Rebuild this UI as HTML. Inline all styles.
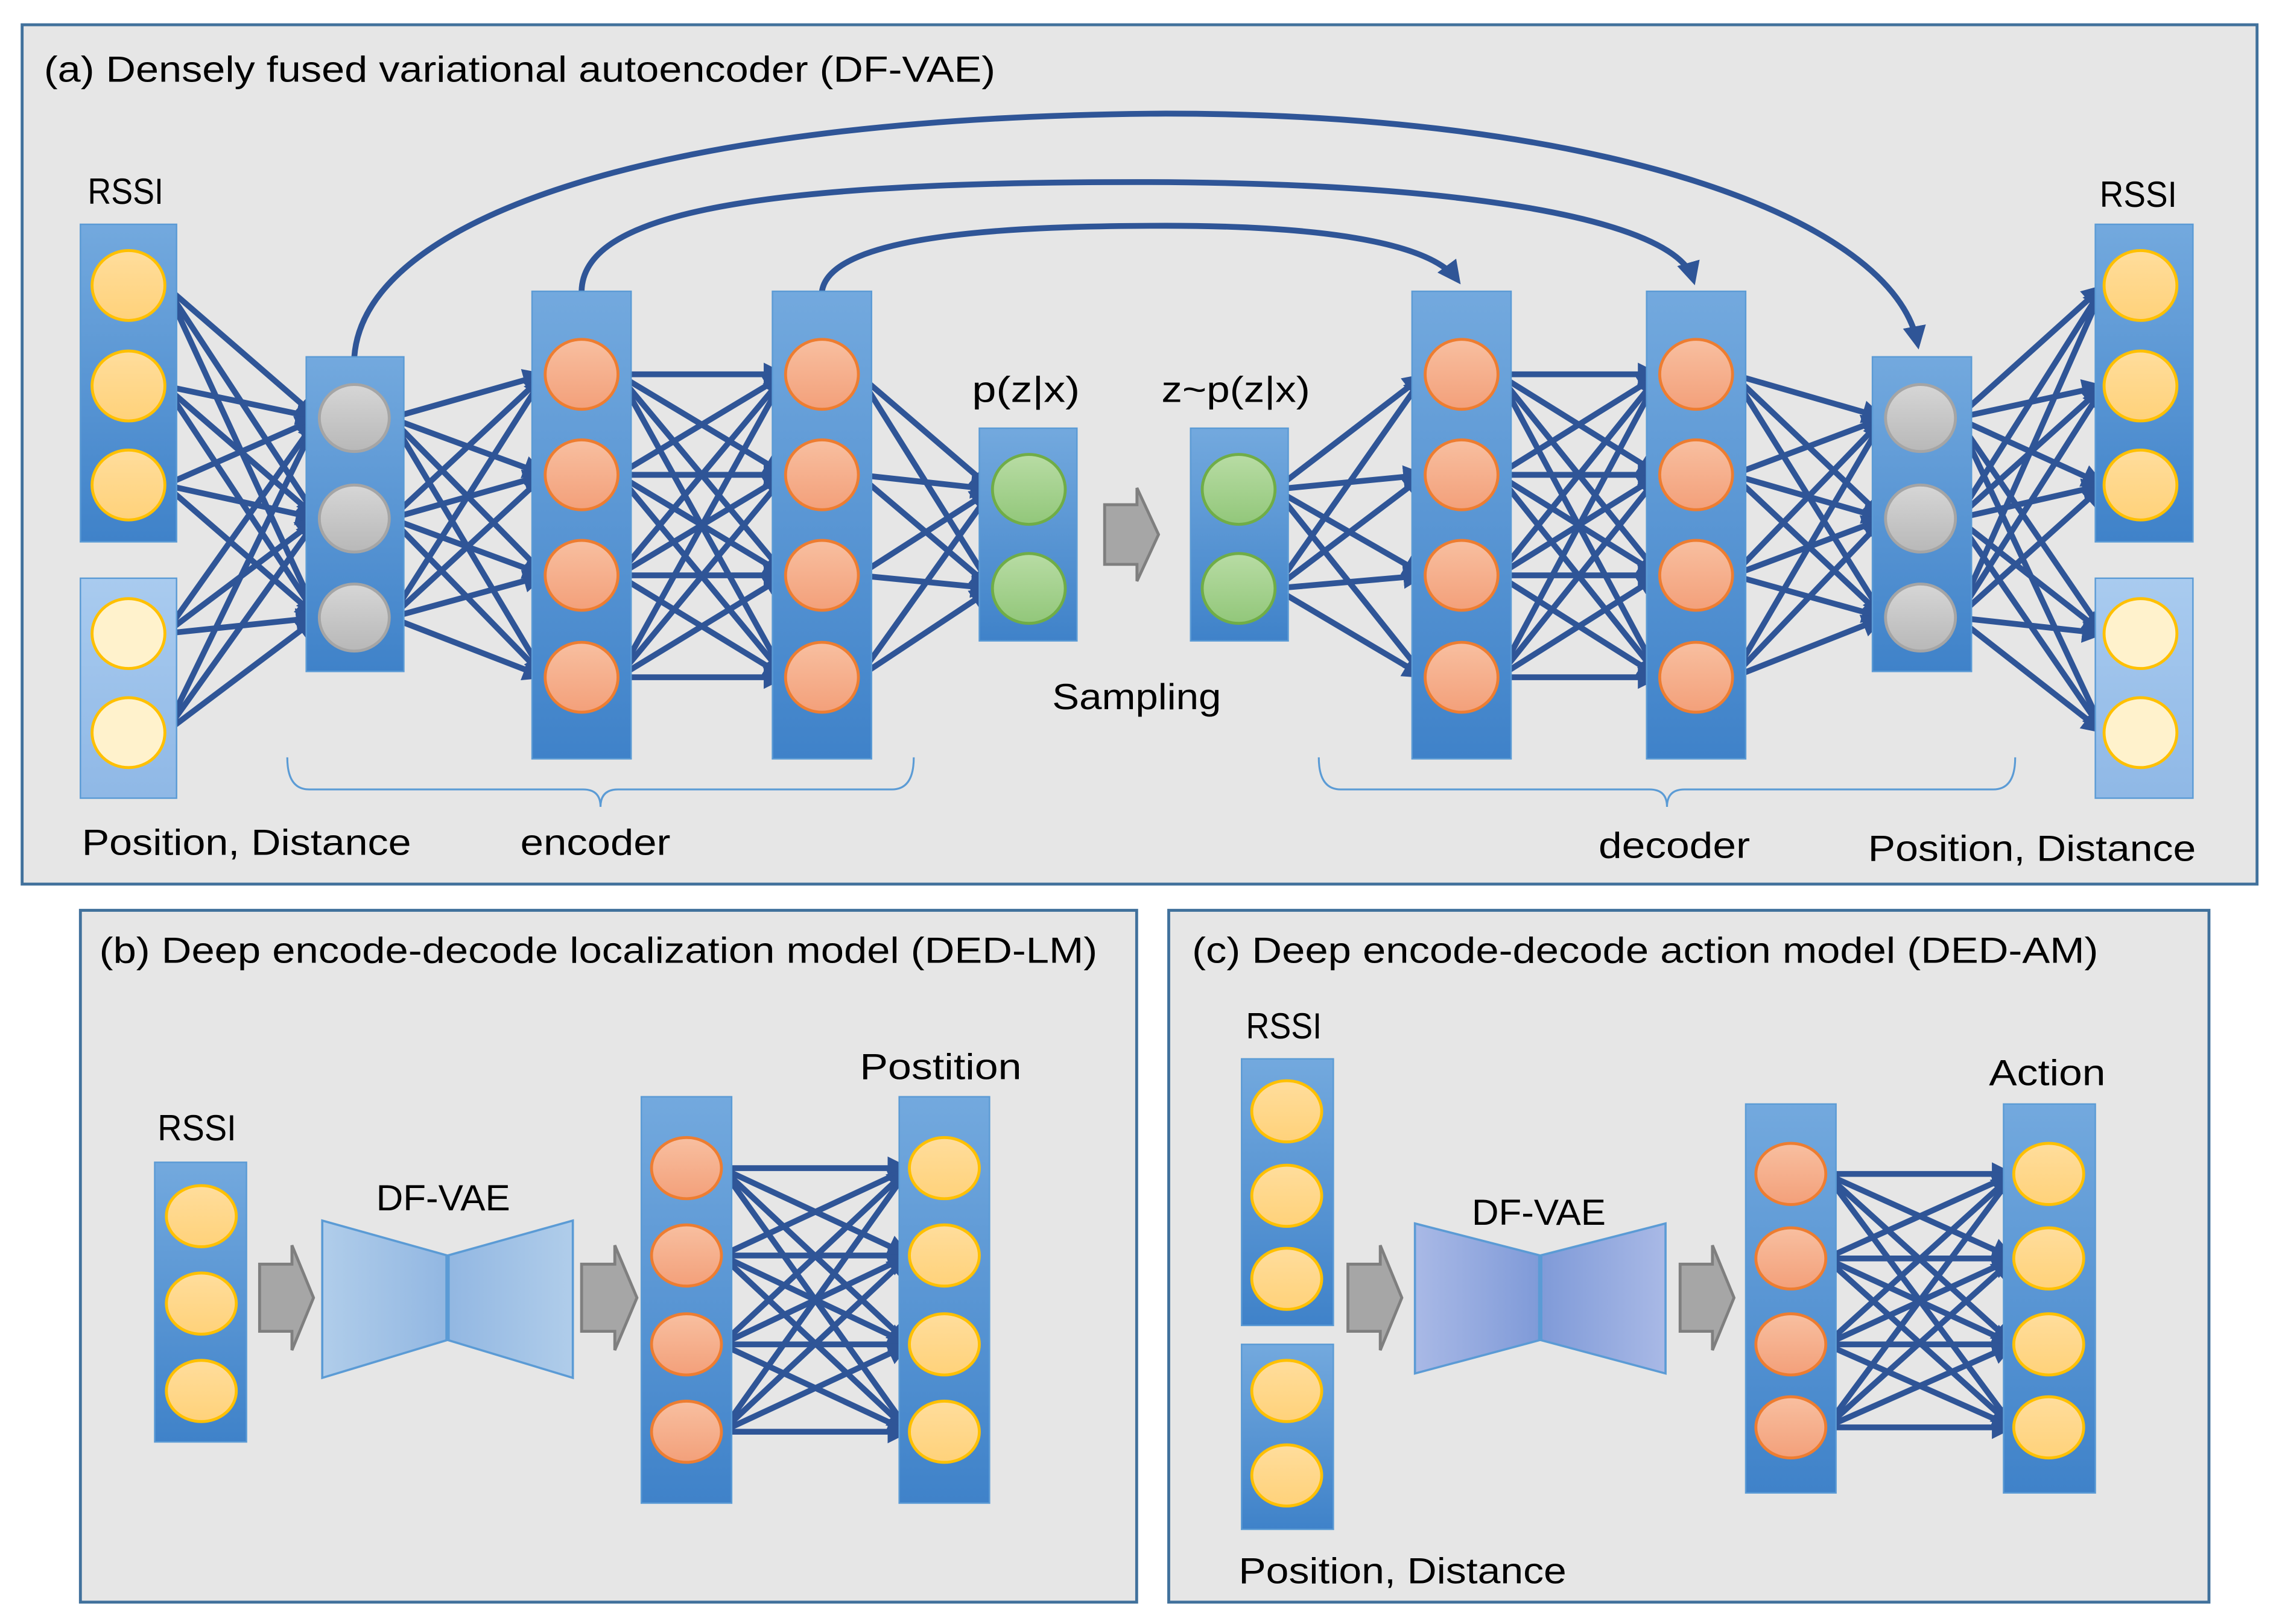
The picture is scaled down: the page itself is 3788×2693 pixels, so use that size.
<!DOCTYPE html>
<html><head><meta charset="utf-8">
<style>
html,body{margin:0;padding:0;background:#fff;}
svg{display:block;}
text{font-family:"Liberation Sans",sans-serif;fill:#000;}
</style></head>
<body>
<svg id="s" width="3788" height="2693" viewBox="0 0 1568 1115" xmlns="http://www.w3.org/2000/svg">
<defs>
<linearGradient id="col" x1="0" y1="0" x2="0" y2="1"><stop offset="0" stop-color="#73a9de"/><stop offset="1" stop-color="#3f82c9"/></linearGradient>
<linearGradient id="col2" x1="0" y1="0" x2="0" y2="1"><stop offset="0" stop-color="#a9cbef"/><stop offset="1" stop-color="#8fb8e6"/></linearGradient>
<linearGradient id="yl" x1="0" y1="0" x2="0" y2="1"><stop offset="0" stop-color="#ffdd9c"/><stop offset="1" stop-color="#ffd27a"/></linearGradient>
<linearGradient id="or" x1="0" y1="0" x2="0" y2="1"><stop offset="0" stop-color="#f8bfa0"/><stop offset="1" stop-color="#f3a07a"/></linearGradient>
<linearGradient id="gr" x1="0" y1="0" x2="0" y2="1"><stop offset="0" stop-color="#d6d6d6"/><stop offset="1" stop-color="#b8b8b8"/></linearGradient>
<linearGradient id="gn" x1="0" y1="0" x2="0" y2="1"><stop offset="0" stop-color="#b8dca4"/><stop offset="1" stop-color="#92c77a"/></linearGradient>
<linearGradient id="trL" x1="0" y1="0" x2="1" y2="0"><stop offset="0" stop-color="#b0cdea"/><stop offset="1" stop-color="#92b7e2"/></linearGradient>
<linearGradient id="trR" x1="1" y1="0" x2="0" y2="0"><stop offset="0" stop-color="#b0cdea"/><stop offset="1" stop-color="#92b7e2"/></linearGradient>
<linearGradient id="trL2" x1="0" y1="0" x2="1" y2="0"><stop offset="0" stop-color="#a9b9e6"/><stop offset="1" stop-color="#7f9ad8"/></linearGradient>
<linearGradient id="trR2" x1="1" y1="0" x2="0" y2="0"><stop offset="0" stop-color="#a9b9e6"/><stop offset="1" stop-color="#7f9ad8"/></linearGradient>
<marker id="ah" markerWidth="4" markerHeight="4" refX="3" refY="2" orient="auto" markerUnits="strokeWidth"><path d="M0,0 L4,2 L0,4 z" fill="#2f5597"/></marker>
</defs>
<g id="bg">
<rect x="15" y="17" width="1534" height="590" fill="#e6e6e6" stroke="#41719c" stroke-width="2"/>
<rect x="55" y="625" width="725" height="475" fill="#e6e6e6" stroke="#41719c" stroke-width="2"/>
<rect x="802" y="625" width="714" height="475" fill="#e6e6e6" stroke="#41719c" stroke-width="2"/>
</g>
<g id="lines" stroke="#2f5597" stroke-width="4" fill="none"></g>
<g id="nodes"></g>
<g id="txt" font-size="25" lengthAdjust="spacingAndGlyphs">
<text x="30" y="56" textLength="653" lengthAdjust="spacingAndGlyphs">(a) Densely fused variational autoencoder (DF-VAE)</text>
<text x="60" y="140" textLength="52" lengthAdjust="spacingAndGlyphs">RSSI</text>
<text x="1441" y="142" textLength="53" lengthAdjust="spacingAndGlyphs">RSSI</text>
<text x="667" y="276" textLength="74" lengthAdjust="spacingAndGlyphs">p(z|x)</text>
<text x="797" y="276" textLength="102" lengthAdjust="spacingAndGlyphs">z~p(z|x)</text>
<text x="722" y="487" textLength="116" lengthAdjust="spacingAndGlyphs">Sampling</text>
<text x="56" y="587" textLength="226" lengthAdjust="spacingAndGlyphs">Position, Distance</text>
<text x="357" y="587" textLength="103" lengthAdjust="spacingAndGlyphs">encoder</text>
<text x="1097" y="589" textLength="104" lengthAdjust="spacingAndGlyphs">decoder</text>
<text x="1282" y="591" textLength="225" lengthAdjust="spacingAndGlyphs">Position, Distance</text>
<text x="68" y="661" textLength="685" lengthAdjust="spacingAndGlyphs">(b) Deep encode-decode localization model (DED-LM)</text>
<text x="108" y="783" textLength="54" lengthAdjust="spacingAndGlyphs">RSSI</text>
<text x="258" y="831" textLength="92" lengthAdjust="spacingAndGlyphs">DF-VAE</text>
<text x="590" y="741" textLength="111" lengthAdjust="spacingAndGlyphs">Postition</text>
<text x="818" y="661" textLength="622" lengthAdjust="spacingAndGlyphs">(c) Deep encode-decode action model (DED-AM)</text>
<text x="855" y="713" textLength="52" lengthAdjust="spacingAndGlyphs">RSSI</text>
<text x="1010" y="841" textLength="92" lengthAdjust="spacingAndGlyphs">DF-VAE</text>
<text x="1365" y="745" textLength="80" lengthAdjust="spacingAndGlyphs">Action</text>
<text x="850" y="1087" textLength="225" lengthAdjust="spacingAndGlyphs">Position, Distance</text>
</g>
</svg>
<script>
var NS="http://www.w3.org/2000/svg";
function el(p,t,a){var e=document.createElementNS(NS,t);for(var k in a)e.setAttribute(k,a[k]);document.getElementById(p).appendChild(e);return e;}
function col(x1,y1,x2,y2,f){el("nodes","rect",{x:x1,y:y1,width:x2-x1,height:y2-y1,fill:f||"url(#col)",stroke:"#5b9bd5","stroke-width":1});}
var S={y:["url(#yl)","#ffc000"],p:["#fff2cc","#ffc000"],o:["url(#or)","#ed7d31"],g:["url(#gr)","#a5a5a5"],n:["url(#gn)","#70ad47"]};
function circ(cx,cy,rx,ry,t){el("nodes","ellipse",{cx:cx,cy:cy,rx:rx,ry:ry,fill:S[t][0],stroke:S[t][1],"stroke-width":2});}
function conn(A,B,rA,rB){A.ys.forEach(function(ya){B.ys.forEach(function(yb){
 var x1=A.x+rA,x2=B.x-rB;var dx=x2-x1,dy=yb-ya,L=Math.sqrt(dx*dx+dy*dy);
 var x2b=x2-dx/L*3,y2b=yb-dy/L*3;
 el("lines","line",{x1:x1,y1:ya,x2:x2b,y2:y2b,"marker-end":"url(#ah)"});});});}
col(55,154,121,372);col(55,397,121,548,"url(#col2)");
col(210,245,277,461);col(365,200,433,521);col(530,200,598,521);col(672,294,739,440);
col(817,294,884,440);col(969,200,1037,521);col(1130,200,1198,521);col(1285,245,1353,461);
col(1438,154,1505,372);col(1438,397,1505,548,"url(#col2)");
var R1={x:88,ys:[196,265,333]},P1={x:88,ys:[435,503]},G1={x:243,ys:[287,356,424]},
E1={x:399,ys:[257,326,395,465]},E2={x:564,ys:[257,326,395,465]},Z1={x:706,ys:[336,404]},
Z2={x:850,ys:[336,404]},D1={x:1003,ys:[257,326,395,465]},D2={x:1164,ys:[257,326,395,465]},
G2={x:1318,ys:[287,356,424]},R2={x:1469,ys:[196,265,333]},P2={x:1469,ys:[435,503]};
var r=25;
conn({x:R1.x,ys:R1.ys.concat(P1.ys)},G1,r,r);conn(G1,E1,r,r);conn(E1,E2,r,r);conn(E2,Z1,r,r);
conn(Z2,D1,r,r);conn(D1,D2,r,r);conn(D2,G2,r,r);conn(G2,{x:R2.x,ys:R2.ys.concat(P2.ys)},r,r);
R1.ys.forEach(function(y){circ(88,y,25,24,"y")});P1.ys.forEach(function(y){circ(88,y,25,24,"p")});
G1.ys.forEach(function(y){circ(243,y,24,23,"g")});G2.ys.forEach(function(y){circ(1318,y,24,23,"g")});
[E1,E2,D1,D2].forEach(function(c){c.ys.forEach(function(y){circ(c.x,y,25,24,"o")})});
[Z1,Z2].forEach(function(c){c.ys.forEach(function(y){circ(c.x,y,25,24,"n")})});
R2.ys.forEach(function(y){circ(1469,y,25,24,"y")});P2.ys.forEach(function(y){circ(1469,y,25,24,"p")});
el("lines","path",{d:"M243,245 C250,150 450,80 800,78 C1100,78 1300,150 1316,236","marker-end":"url(#ah)"});
el("lines","path",{d:"M399,200 C400,150 500,125 780,125 C1000,125 1150,150 1162,192","marker-end":"url(#ah)"});
el("lines","path",{d:"M564,200 C570,160 700,155 800,155 C900,155 980,165 1000,192","marker-end":"url(#ah)"});
function brace(x1,x2,y){var m=(x1+x2)/2;el("lines","path",{d:"M"+x1+","+(y-22)+" Q"+x1+","+y+" "+(x1+15)+","+y+" L"+(m-12)+","+y+" Q"+m+","+y+" "+m+","+(y+12)+" Q"+m+","+y+" "+(m+12)+","+y+" L"+(x2-15)+","+y+" Q"+x2+","+y+" "+x2+","+(y-22),stroke:"#5b9bd5","stroke-width":1.3});}
brace(197,627,542);brace(905,1383,542);
function garrow(x1,x2,yc,h){var hw=h/2,sh=h*0.32,xm=x2-(x2-x1)*0.4;
 el("nodes","path",{d:"M"+x1+","+(yc-sh)+" L"+xm+","+(yc-sh)+" L"+xm+","+(yc-hw)+" L"+x2+","+yc+" L"+xm+","+(yc+hw)+" L"+xm+","+(yc+sh)+" L"+x1+","+(yc+sh)+" z",fill:"#a6a6a6",stroke:"#7f7f7f","stroke-width":2});}
garrow(758,795,367,64);garrow(178,215,891,72);garrow(399,437,891,72);garrow(925,962,891,72);garrow(1153,1190,891,72);
function trap(x1,xm,x2,yt,yb,nt,nb,fl,fr){
 el("nodes","path",{d:"M"+x1+","+yt+" L"+xm+","+nt+" L"+xm+","+nb+" L"+x1+","+yb+" z",fill:fl,stroke:"#5b9bd5","stroke-width":1.5});
 el("nodes","path",{d:"M"+x2+","+yt+" L"+xm+","+nt+" L"+xm+","+nb+" L"+x2+","+yb+" z",fill:fr,stroke:"#5b9bd5","stroke-width":1.5});
 el("nodes","line",{x1:xm,y1:nt,x2:xm,y2:nb,stroke:"#5b9bd5","stroke-width":3});}
trap(221,307,393,838,946,862,920,"url(#trL)","url(#trR)");
trap(971,1057,1143,840,943,862,920,"url(#trL2)","url(#trR2)");
col(106,798,169,990);[835,895,955].forEach(function(y){circ(138,y,24,21,"y")});
col(440,753,502,1032);col(617,753,679,1032);
var B1={x:471,ys:[802,862,923,983]},B2={x:648,ys:[802,862,923,983]};
conn(B1,B2,24,24);
B1.ys.forEach(function(y){circ(471,y,24,21,"o")});B2.ys.forEach(function(y){circ(648,y,24,21,"y")});
col(852,727,915,910);[763,821,878].forEach(function(y){circ(883,y,24,21,"y")});
col(852,923,915,1050);[955,1013].forEach(function(y){circ(883,y,24,21,"y")});
col(1198,758,1260,1025);col(1375,758,1438,1025);
var C1={x:1229,ys:[806,864,923,980]},C2={x:1406,ys:[806,864,923,980]};
conn(C1,C2,24,24);
C1.ys.forEach(function(y){circ(1229,y,24,21,"o")});C2.ys.forEach(function(y){circ(1406,y,24,21,"y")});
</script>
</body></html>
